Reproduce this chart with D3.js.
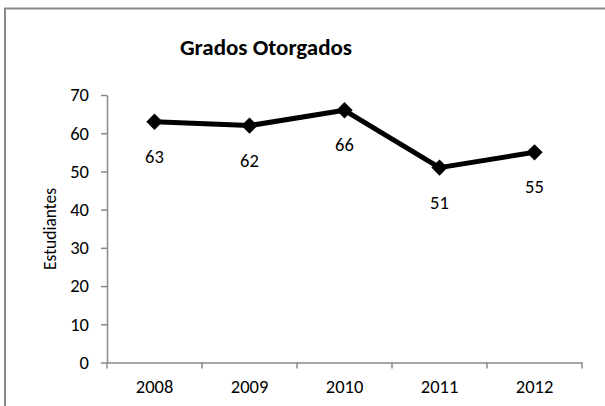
<!DOCTYPE html>
<html>
<head>
<meta charset="utf-8">
<script src="https://cdn.jsdelivr.net/npm/d3@7"></script>
<style>
  html, body { margin: 0; padding: 0; background: #fff; }
  svg { display: block; font-family: Carlito, Calibri, "Open Sans", sans-serif; }
</style>
</head>
<body>
<div id="chart"></div>
<script>
  'use strict'

  // Data.
  var years  = ['2008', '2009', '2010', '2011', '2012'];
  var grados = [63, 62, 66, 51, 55];
  var yTicks = [0, 10, 20, 30, 40, 50, 60, 70];

  var width  = 605;
  var height = 406;

  // Plot area.
  var plot = { left: 107, right: 582, top: 95, bottom: 362.5 };

  var svg = d3.select('#chart')
              .append('svg')
              .attr('width', width)
              .attr('height', height);

  // Chart frame (right and bottom edges fall outside the picture).
  svg.append('rect')
     .attr('x', 5)
     .attr('y', 8.5)
     .attr('width', 620)
     .attr('height', 420)
     .style('fill', 'none')
     .style('stroke', '#898989')
     .style('stroke-width', 2);

  svg.append('text')
     .attr('x', 266)
     .attr('y', 55)
     .attr('text-anchor', 'middle')
     .style('font-size', '23px')
     .style('font-weight', 'bold')
     .text('Grados Otorgados');

  var x = d3.scaleBand()
            .domain(years)
            .range([plot.left, plot.right]);

  var y = d3.scaleLinear()
            .domain([0, 70])
            .range([plot.bottom, plot.top]);

  // Y axis.
  var yAxis = svg.append('g')
                 .attr('transform', 'translate(' + plot.left + ',0)')
                 .call(d3.axisLeft(y).tickValues(yTicks).tickSize(6).tickPadding(12).tickSizeOuter(0));

  // X axis, ticks between categories.
  var xAxis = svg.append('g')
                 .attr('transform', 'translate(0,' + plot.bottom + ')')
                 .call(d3.axisBottom(x).tickSize(0).tickPadding(17));

  xAxis.selectAll('.tickmark')
       .data(years.concat(['end']))
       .enter().append('line')
       .attr('class', 'tickmark')
       .attr('x1', function(d, i) { return i < years.length ? x(d) : x(years[years.length - 1]) + x.bandwidth(); })
       .attr('x2', function(d, i) { return i < years.length ? x(d) : x(years[years.length - 1]) + x.bandwidth(); })
       .attr('y1', 0)
       .attr('y2', 6);

  [yAxis, xAxis].forEach(function(g) {
    g.selectAll('path, line')
     .style('stroke', '#898989')
     .style('stroke-width', 1.5);
    g.selectAll('text')
     .style('font-family', 'Carlito, Calibri, "Open Sans", sans-serif')
     .style('font-size', '18.5px')
     .style('fill', '#000');
  });

  svg.append('text')
     .attr('transform', 'translate(56,229) rotate(-90)')
     .attr('text-anchor', 'middle')
     .style('font-size', '17.5px')
     .text('Estudiantes');

  var cx = function(d, i) { return x(years[i]) + x.bandwidth() / 2; };

  var line = d3.line()
               .x(cx)
               .y(function(d) { return y(d); });

  svg.append('path')
     .datum(grados)
     .attr('d', line)
     .style('fill', 'none')
     .style('stroke', '#000')
     .style('stroke-width', 5)
     .style('stroke-linejoin', 'round');

  var diamond = d3.symbol().type(d3.symbolDiamond2).size(170);

  svg.selectAll('.marker')
     .data(grados)
     .enter().append('path')
     .attr('class', 'marker')
     .attr('d', diamond)
     .attr('transform', function(d, i) { return 'translate(' + cx(d, i) + ',' + y(d) + ')'; })
     .style('fill', '#000');

  svg.selectAll('.label')
     .data(grados)
     .enter().append('text')
     .attr('class', 'label')
     .attr('x', cx)
     .attr('y', function(d) { return y(d) + 41; })
     .attr('text-anchor', 'middle')
     .style('font-size', '18.5px')
     .text(function(d) { return d; });
</script>
</body>
</html>
